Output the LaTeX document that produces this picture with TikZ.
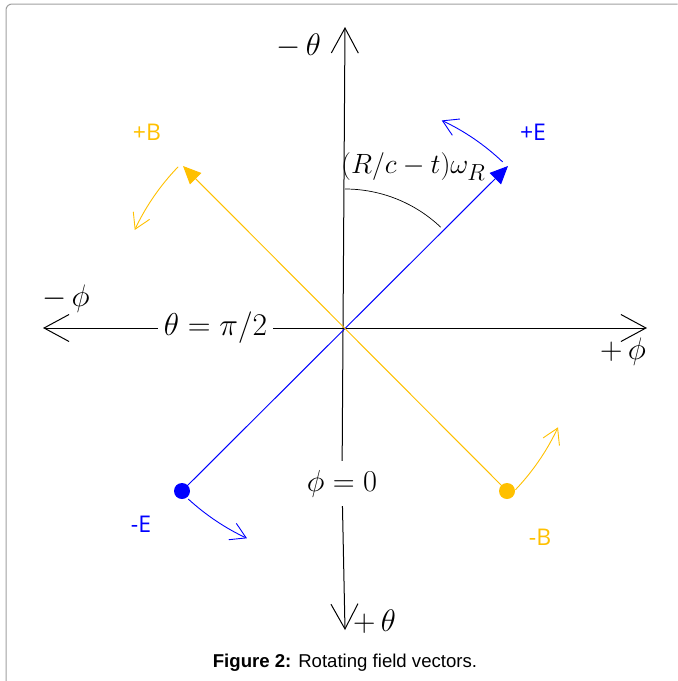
\documentclass[tikz,border=0pt]{standalone}
\usepackage{fontspec}
\usepackage{graphicx}
\newfontfamily\lblfont{Open Sans}
\newfontfamily\capfont{Liberation Sans}
\usetikzlibrary{arrows.meta}
\definecolor{eblue}{RGB}{0,0,255}
\definecolor{bgold}{RGB}{255,192,0}
\newcommand\bigmath[2]{\scalebox{#1}{\fontsize{24.88}{30}\selectfont$#2$}}
\begin{document}
\begin{tikzpicture}[x=1pt,y=-1pt,
  axis/.style={black, line width=1pt, -{Straight Barb[length=25pt,width=27pt]}},
  mathlbl/.style={inner sep=0pt},
  fieldlbl/.style={font=\lblfont\fontsize{23}{27}\selectfont, inner sep=0pt},
  vec/.style={line width=1pt, -{Triangle[length=18pt,width=16pt]}},
  rot/.style={line width=0.9pt, -{Straight Barb[length=15pt,width=18pt]}},
  dot/.style={circle, inner sep=0pt, minimum size=16pt}]
\useasboundingbox (0,0) rectangle (678,681);
% frame
\draw[gray!75, line width=1pt, rounded corners=6pt] (677.5,4) -- (6,4) -- (6,681);
% anchors
\coordinate (O) at (345,328);
\coordinate (ttop) at (345,27);
\coordinate (tbot) at (345,630);
\coordinate (pleft) at (43,328);
\coordinate (pright) at (647,328);
% gap labels
\node[mathlbl, minimum width=115pt, minimum height=30pt] (thpi) at (215.5,328) {\bigmath{1.27}{\theta=\pi/2}};
\node[mathlbl, minimum width=60pt, minimum height=45pt] (phi0) at (342,483.5) {\bigmath{1.22}{\phi=0}};
% axes
\draw[axis] (phi0) -- (ttop);
\draw[axis] (phi0) -- (tbot);
\draw[axis] (thpi) -- (pleft);
\draw[axis] (thpi) -- (pright);
% axis labels
\node[mathlbl, anchor=east] (mth) at (321,46) {\bigmath{1.25}{-\,\theta}};
\node[mathlbl, anchor=west] (pth) at (353,622) {\bigmath{1.25}{+\,\theta}};
\node[mathlbl, anchor=west] (mph) at (42,299) {\bigmath{1.25}{-\,\phi}};
\node[mathlbl, anchor=west] (pph) at (600,352) {\bigmath{1.25}{+\,\phi}};
% angle
\draw[black, line width=0.7pt] (O) ++(-90:139) arc[start angle=-90, end angle=-46.5, radius=139];
\node[mathlbl, anchor=west] (ang) at (341,167) {\bigmath{1.12}{\bigl(R/c-t\bigr)\omega_R}};
% field vectors
\coordinate (Etip) at (508,166);
\coordinate (Btip) at (183,166);
\node[dot, fill=eblue] (Edot) at (182,491) {};
\node[dot, fill=bgold] (Bdot) at (507,491) {};
\draw[vec, eblue] (Edot.center) -- (Etip);
\draw[vec, bgold] (Bdot.center) -- (Btip);
% rotation arcs
\draw[rot, eblue] (O) ++(-46.5:229) arc[start angle=-46.5, end angle=-65, radius=229];
\draw[rot, bgold] (O) ++(-136:232) arc[start angle=-136, end angle=-155, radius=232];
\draw[rot, eblue] (O) ++(-227.5:232) arc[start angle=-227.5, end angle=-245, radius=232];
\draw[rot, bgold] (O) ++(-316.5:235) arc[start angle=-316.5, end angle=-335, radius=235];
% field labels
\node[fieldlbl, text=eblue] (lpE) at (533,132) {+E};
\node[fieldlbl, text=bgold] (lpB) at (147,132) {+B};
\node[fieldlbl, text=eblue] (lmE) at (141,524) {-E};
\node[fieldlbl, text=bgold] (lmB) at (540,537) {-B};
% caption
\node[font=\capfont\fontsize{18.6}{22}\selectfont, inner sep=0pt] (cap) at (345,663) {\textbf{Figure 2:} Rotating field vectors.};
\end{tikzpicture}
\end{document}
